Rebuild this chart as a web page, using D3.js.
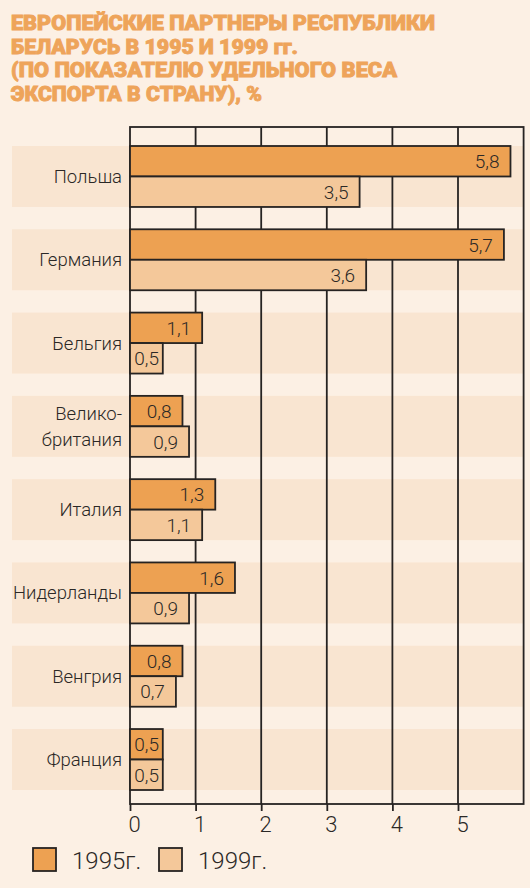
<!DOCTYPE html>
<html>
<head>
<meta charset="utf-8">
<script src="https://cdn.jsdelivr.net/npm/d3@7"></script>
<style>
  body { margin: 0; background: #fcf0e4; }
  svg { display: block; font-family: Roboto, "Open Sans", sans-serif; }
  .grid line { stroke: #262322; stroke-width: 1.8; }
  .tick text { fill: #2b2826; }
</style>
</head>
<body>
<div id="plot"></div>
<script>
const countries = ['Польша', 'Германия', 'Бельгия', 'Великобритания', 'Италия', 'Нидерланды', 'Венгрия', 'Франция'];
const countryLines = [['Польша'], ['Германия'], ['Бельгия'], ['Велико-', 'британия'], ['Италия'], ['Нидерланды'], ['Венгрия'], ['Франция']];
const years = ['1995г.', '1999г.'];
const values1995 = [5.8, 5.7, 1.1, 0.8, 1.3, 1.6, 0.8, 0.5];
const values1999 = [3.5, 3.6, 0.5, 0.9, 1.1, 0.9, 0.7, 0.5];
const xTicks = [0, 1, 2, 3, 4, 5];
const titleLines = [
  'ЕВРОПЕЙСКИЕ ПАРТНЕРЫ РЕСПУБЛИКИ',
  'БЕЛАРУСЬ В 1995 И 1999 гг.',
  '(ПО ПОКАЗАТЕЛЮ УДЕЛЬНОГО ВЕСА',
  'ЭКСПОРТА В СТРАНУ), %'
];

const colors = ['#eda152', '#f4c89a'];
const ink = '#262322';

const W = 530, H = 888;
const plotTop = 127, plotBottom = 804;

const svg = d3.select('#plot').append('svg')
  .attr('width', W)
  .attr('height', H);

svg.append('rect')
  .attr('width', W).attr('height', H)
  .attr('fill', '#fcf0e4');

// title (stroke thickens it toward the heavy original face)
const titleWidths = [424, 287, 386, 251];
svg.append('g')
  .selectAll('text')
  .data(titleLines)
  .enter()
  .append('text')
  .attr('x', 11)
  .attr('y', (d, i) => 30 + i * 23.7)
  .attr('fill', '#eea45a')
  .attr('stroke', '#eea45a')
  .attr('stroke-width', 0.9)
  .attr('font-size', 21)
  .attr('font-weight', 900)
  .attr('textLength', (d, i) => titleWidths[i])
  .attr('lengthAdjust', 'spacingAndGlyphs')
  .text(d => d);

const xScale = d3.scaleLinear()
  .domain([0, 6])
  .range([130, 523.6]);

const yScale = d3.scaleBand()
  .domain(countries)
  .range([146, 790])
  .paddingInner(0.268)
  .paddingOuter(0);

const sub = d3.scaleBand()
  .domain(years)
  .range([0, yScale.bandwidth()]);

const rows = countries.map((c, i) => ({
  country: c,
  lines: countryLines[i],
  values: [values1995[i], values1999[i]]
}));

// band backgrounds
svg.append('g')
  .selectAll('rect')
  .data(rows)
  .enter()
  .append('rect')
  .attr('x', 12)
  .attr('y', d => yScale(d.country))
  .attr('width', xScale(6) - 12)
  .attr('height', yScale.bandwidth())
  .attr('fill', '#f9e5d1');

// vertical grid lines
svg.append('g')
  .attr('class', 'grid')
  .selectAll('line')
  .data(xTicks.slice(1))
  .enter()
  .append('line')
  .attr('x1', d => xScale(d))
  .attr('x2', d => xScale(d))
  .attr('y1', plotTop)
  .attr('y2', plotBottom);

// frame
svg.append('rect')
  .attr('x', xScale(0))
  .attr('y', plotTop)
  .attr('width', xScale(6) - xScale(0))
  .attr('height', plotBottom - plotTop)
  .attr('fill', 'none')
  .attr('stroke', ink)
  .attr('stroke-width', 1.8);

// bottom axis
const axis = svg.append('g')
  .attr('transform', `translate(0, ${plotBottom})`)
  .call(d3.axisBottom(xScale)
    .tickValues(xTicks)
    .tickSize(7)
    .tickPadding(5)
    .tickFormat(d3.format('d')));
axis.select('.domain').remove();
axis.selectAll('.tick line').attr('stroke', ink).attr('stroke-width', 1.8);
axis.selectAll('.tick text')
  .attr('font-size', 22)
  .attr('font-weight', 300)
  .attr('font-family', 'Roboto, sans-serif')
  .attr('dx', 4);

// bars
const groups = svg.append('g')
  .selectAll('g')
  .data(rows)
  .enter()
  .append('g')
  .attr('transform', d => `translate(0, ${yScale(d.country)})`);

const bars = groups.selectAll('g')
  .data(d => d.values.map((v, j) => ({ year: years[j], value: v, idx: j })))
  .enter()
  .append('g');

bars.append('rect')
  .attr('x', xScale(0))
  .attr('y', d => sub(d.year))
  .attr('width', d => xScale(d.value) - xScale(0))
  .attr('height', sub.bandwidth())
  .attr('fill', d => colors[d.idx])
  .attr('stroke', ink)
  .attr('stroke-width', 1.8);

bars.append('text')
  .attr('x', d => Math.max(xScale(d.value) - 11, xScale(0) + 29))
  .attr('y', d => sub(d.year) + sub.bandwidth() / 2 + 7)
  .attr('text-anchor', 'end')
  .attr('font-size', 19)
  .attr('font-weight', 300)
  .attr('fill', '#2b2826')
  .text(d => d3.format('.1f')(d.value).replace('.', ','));

// country labels
groups.append('text')
  .attr('x', 122)
  .attr('y', d => yScale.bandwidth() / 2 + 6.5 - (d.lines.length - 1) * 13)
  .attr('text-anchor', 'end')
  .attr('font-size', 18.5)
  .attr('font-weight', 300)
  .attr('fill', '#2b2826')
  .selectAll('tspan')
  .data(d => d.lines)
  .enter()
  .append('tspan')
  .attr('x', 122)
  .attr('dy', (d, i) => i === 0 ? 0 : 26)
  .text(d => d);

// legend
const legend = svg.append('g')
  .selectAll('g')
  .data(years)
  .enter()
  .append('g')
  .attr('transform', (d, i) => `translate(${33 + i * 126}, 848)`);

legend.append('rect')
  .attr('width', 23)
  .attr('height', 23)
  .attr('fill', (d, i) => colors[i])
  .attr('stroke', ink)
  .attr('stroke-width', 1.8);

legend.append('text')
  .attr('x', 39)
  .attr('y', 21)
  .attr('font-size', 24)
  .attr('font-weight', 300)
  .attr('fill', '#2b2826')
  .text(d => d);
</script>
</body>
</html>
